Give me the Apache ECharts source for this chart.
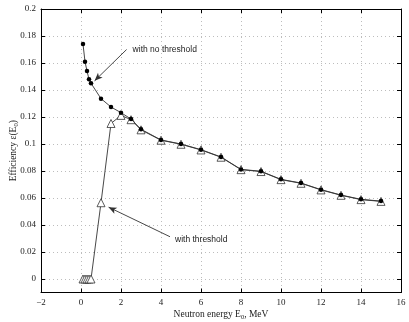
<!DOCTYPE html>
<html>
<head>
<meta charset="utf-8">
<script src="https://cdn.jsdelivr.net/npm/echarts@6/dist/echarts.min.js"></script>
<style>
  html, body { margin: 0; padding: 0; background: #fff; }
  #chart { width: 409px; height: 322px; }
</style>
</head>
<body>
<div id="chart"></div>
<script>
// energies, MeV
var energy = [0.1, 0.2, 0.3, 0.4, 0.5, 1, 1.5, 2, 2.5, 3, 4, 5, 6, 7, 8, 9, 10, 11, 12, 13, 14, 15];
// efficiency without threshold
var effNoThr = [0.174, 0.161, 0.154, 0.148, 0.145, 0.1336, 0.1274, 0.1232, 0.1185, 0.1109, 0.103, 0.1, 0.0958, 0.0904, 0.0812, 0.0798, 0.0738, 0.0711, 0.0662, 0.0622, 0.059, 0.0577];
// efficiency with threshold
var effThr = [0, 0, 0, 0, 0, 0.0565, 0.1152, 0.1212, 0.118, 0.1105, 0.1028, 0.0998, 0.0956, 0.0902, 0.081, 0.0796, 0.0736, 0.0709, 0.066, 0.062, 0.0588, 0.0575];

// annotation arrows: [from, to] in data units
var noThrArrow = [[2.28, 0.170], [0.68, 0.1468]];
var thrArrow = [[4.45, 0.0313], [1.38, 0.0532]];

function pairs(xs, ys) {
  return xs.map(function (x, i) { return [x, ys[i]]; });
}

var serif = 'Liberation Serif';
var chart = echarts.init(document.getElementById('chart'));

var gridLine = { show: true, lineStyle: { color: '#bdbdbd', type: [1, 3], width: 1 } };
var axLine = { show: true, onZero: false, lineStyle: { color: '#000', width: 1 } };
var tickIn = { show: true, inside: true, length: 4, lineStyle: { color: '#000' } };
var nameRich = {
  n: { fontFamily: serif, fontSize: 9.5, color: '#222' },
  s: { fontFamily: serif, fontSize: 6.5, color: '#222', verticalAlign: 'bottom', padding: [6, 0, 0, 0] }
};

chart.setOption({
  animation: false,
  grid: { left: 41, right: 8, top: 9, bottom: 29.5, containLabel: false, outerBoundsMode: 'none' },
  xAxis: [{
    type: 'value', min: -2, max: 16, interval: 2,
    axisLine: axLine, axisTick: tickIn, splitLine: gridLine,
    axisLabel: {
      color: '#222', fontFamily: serif, fontSize: 9, margin: 6,
      formatter: function (v) { return String(v).replace('-', '\u2212'); }
    },
    name: '{n|Neutron energy E}{s|0}{n|, MeV}',
    nameLocation: 'middle', nameGap: 15, nameMoveOverlap: false,
    nameTextStyle: { rich: nameRich }
  }, {
    type: 'value', position: 'top', min: -2, max: 16, interval: 2,
    axisLine: axLine, axisTick: tickIn, axisLabel: { show: false }, splitLine: { show: false }
  }],
  yAxis: [{
    type: 'value', min: -0.01, max: 0.2, splitNumber: 10,
    axisLine: axLine, axisTick: tickIn, splitLine: gridLine,
    axisLabel: { color: '#222', fontFamily: serif, fontSize: 9, margin: 5, showMinLabel: false },
    name: '{n|Efficiency \u03b5(E}{s|0}{n|)}',
    nameLocation: 'middle', nameGap: 21, nameRotate: 90, nameMoveOverlap: false,
    nameTextStyle: { rich: nameRich }
  }, {
    type: 'value', position: 'right', min: -0.01, max: 0.2, splitNumber: 10,
    axisLine: axLine, axisTick: tickIn, axisLabel: { show: false }, splitLine: { show: false }
  }],
  series: [{
    name: 'with threshold',
    type: 'line',
    data: pairs(energy, effThr),
    symbol: 'triangle', symbolSize: 8,
    itemStyle: { color: '#fff', borderColor: '#333', borderWidth: 0.8 },
    lineStyle: { color: '#333', width: 0.9 },
    z: 3,
    markLine: {
      silent: true, symbol: ['none', 'arrow'], symbolSize: [5, 8],
      lineStyle: { color: '#333', width: 0.9, type: 'solid' },
      label: { show: false },
      data: [
        [{ coord: noThrArrow[0] }, { coord: noThrArrow[1] }],
        [{ coord: thrArrow[0] }, { coord: thrArrow[1] }]
      ]
    }
  }, {
    name: 'with no threshold',
    type: 'line',
    data: pairs(energy, effNoThr),
    symbol: 'circle', symbolSize: 4.5,
    itemStyle: { color: '#000' },
    lineStyle: { color: '#333', width: 0.9 },
    z: 4
  }]
});

var p1 = chart.convertToPixel({ gridIndex: 0 }, noThrArrow[0]);
var p2 = chart.convertToPixel({ gridIndex: 0 }, thrArrow[0]);
chart.setOption({
  graphic: [{
    type: 'text', x: p1[0] + 6, y: p1[1],
    style: { text: 'with no threshold', font: '8.5px "Liberation Sans"', fill: '#222', verticalAlign: 'middle' }
  }, {
    type: 'text', x: p2[0] + 5, y: p2[1] + 3,
    style: { text: 'with threshold', font: '8.5px "Liberation Sans"', fill: '#222', verticalAlign: 'middle' }
  }]
});
</script>
</body>
</html>
